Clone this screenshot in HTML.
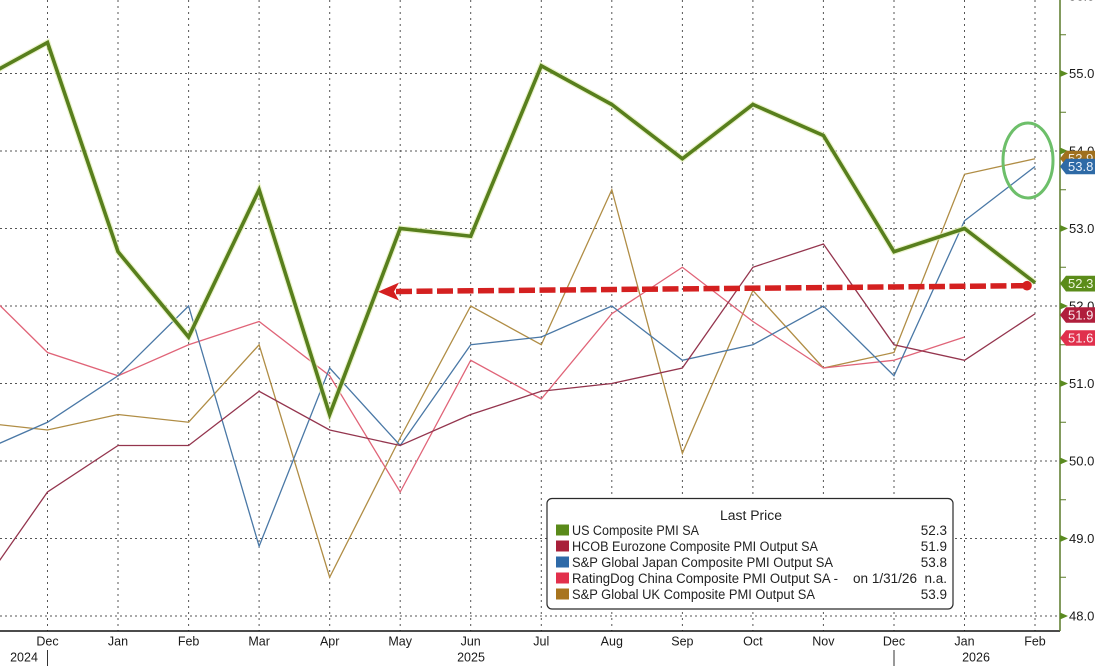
<!DOCTYPE html>
<html>
<head>
<meta charset="utf-8">
<style>
  html,body{margin:0;padding:0;background:#fff;width:1095px;height:666px;overflow:hidden;}
  svg{display:block;}
  text{font-family:"Liberation Sans", Arial, sans-serif;}
</style>
</head>
<body>
<svg width="1095" height="666" viewBox="0 0 1095 666" xmlns="http://www.w3.org/2000/svg">
  <rect x="0" y="0" width="1095" height="666" fill="#ffffff"/>

  <!-- horizontal gridlines -->
  <g stroke="#555" stroke-width="1" stroke-dasharray="2,3">
    <line x1="0" y1="73.5" x2="1060" y2="73.5"/>
    <line x1="0" y1="151" x2="1060" y2="151"/>
    <line x1="0" y1="228.5" x2="1060" y2="228.5"/>
    <line x1="0" y1="306" x2="1060" y2="306"/>
    <line x1="0" y1="383.5" x2="1060" y2="383.5"/>
    <line x1="0" y1="461" x2="1060" y2="461"/>
    <line x1="0" y1="538.5" x2="1060" y2="538.5"/>
    <line x1="0" y1="616" x2="1060" y2="616"/>
  </g>
  <!-- vertical gridlines -->
  <g stroke="#555" stroke-width="1" stroke-dasharray="2,4">
    <line x1="47.5" y1="0" x2="47.5" y2="631"/>
    <line x1="118" y1="0" x2="118" y2="631"/>
    <line x1="188.6" y1="0" x2="188.6" y2="631"/>
    <line x1="259.1" y1="0" x2="259.1" y2="631"/>
    <line x1="329.7" y1="0" x2="329.7" y2="631"/>
    <line x1="400.2" y1="0" x2="400.2" y2="631"/>
    <line x1="470.7" y1="0" x2="470.7" y2="631"/>
    <line x1="541.3" y1="0" x2="541.3" y2="631"/>
    <line x1="611.8" y1="0" x2="611.8" y2="631"/>
    <line x1="682.4" y1="0" x2="682.4" y2="631"/>
    <line x1="752.9" y1="0" x2="752.9" y2="631"/>
    <line x1="823.4" y1="0" x2="823.4" y2="631"/>
    <line x1="894" y1="0" x2="894" y2="631"/>
    <line x1="964.5" y1="0" x2="964.5" y2="631"/>
    <line x1="1035" y1="0" x2="1035" y2="631"/>
  </g>

  <!-- series -->
  <g fill="none" stroke-linejoin="miter">
    <!-- UK -->
    <polyline stroke="#b08d45" stroke-width="1.3" points="-23.04,422.25 47.5,430 118.04,414.5 188.58,422.25 259.12,344.75 329.66,577.25 400.2,437.75 470.74,306 541.28,344.75 611.82,189.75 682.36,453.25 752.9,290.5 823.44,368 893.98,352.5 964.52,174.25 1035.06,158.75"/>
    <!-- China -->
    <polyline stroke="#e06478" stroke-width="1.3" points="-23.04,282.75 47.5,352.5 118.04,375.75 188.58,344.75 259.12,321.5 329.66,375.75 400.2,492 470.74,360.25 541.28,399 611.82,313.75 682.36,267.25 752.9,321.5 823.44,368 893.98,360.25 964.52,337"/>
    <!-- Japan -->
    <polyline stroke="#4a78a6" stroke-width="1.3" points="-23.04,453.25 47.5,422.25 118.04,375.75 188.58,306 259.12,546.25 329.66,368 400.2,445.5 470.74,344.75 541.28,337 611.82,306 682.36,360.25 752.9,344.75 823.44,306 893.98,375.75 964.52,220.75 1035.06,166.5"/>
    <!-- Eurozone -->
    <polyline stroke="#94354e" stroke-width="1.3" points="-23.04,592.75 47.5,492 118.04,445.5 188.58,445.5 259.12,391.25 329.66,430 400.2,445.5 470.74,414.5 541.28,391.25 611.82,383.5 682.36,368 752.9,267.25 823.44,244 893.98,344.75 964.52,360.25 1035.06,313.75"/>
    <!-- US halo -->
    <polyline stroke="#e4efb8" stroke-width="6" opacity="0.7" points="-23.04,81.25 47.5,42.5 118.04,251.75 188.58,337 259.12,189.75 329.66,414.5 400.2,228.5 470.74,236.25 541.28,65.75 611.82,104.5 682.36,158.75 752.9,104.5 823.44,135.5 893.98,251.75 964.52,228.5 1035.06,282.75"/>
    <!-- US -->
    <polyline stroke="#587f1d" stroke-width="3.6" points="-23.04,81.25 47.5,42.5 118.04,251.75 188.58,337 259.12,189.75 329.66,414.5 400.2,228.5 470.74,236.25 541.28,65.75 611.82,104.5 682.36,158.75 752.9,104.5 823.44,135.5 893.98,251.75 964.52,228.5 1035.06,282.75"/>
  </g>

  <!-- red dashed arrow -->
  <line x1="396" y1="291.5" x2="1026" y2="285.7" stroke="#d42020" stroke-width="5.5" stroke-dasharray="16,4.5"/>
  <polygon points="378,291.7 399,282.6 394,291.5 399,300.5" fill="#d42020"/>
  <circle cx="1027" cy="285.7" r="4.8" fill="#d42020"/>

  <!-- green ellipse -->
  <ellipse cx="1028" cy="160.5" rx="25" ry="37.5" fill="none" stroke="#6dbf6a" stroke-width="3"/>

  <!-- legend -->
  <rect x="547" y="498.5" width="406" height="110.5" rx="5" ry="5" fill="#ffffff" stroke="#2a2a2a" stroke-width="1.2"/>
  <text x="751" y="520" font-size="13.5" fill="#222" text-anchor="middle" textLength="62" lengthAdjust="spacingAndGlyphs">Last Price</text>
  <rect x="556" y="524.5" width="13" height="11" fill="#5a8a1a"/>
  <rect x="556" y="540.5" width="13" height="11" fill="#a8203a"/>
  <rect x="556" y="556.5" width="13" height="11" fill="#2e6aa8"/>
  <rect x="556" y="572.5" width="13" height="11" fill="#e2304c"/>
  <rect x="556" y="588.5" width="13" height="11" fill="#a8741e"/>
  <g font-size="13.5" fill="#222">
    <text x="572" y="535" textLength="127" lengthAdjust="spacingAndGlyphs">US Composite PMI SA</text>
    <text x="572" y="551" textLength="246" lengthAdjust="spacingAndGlyphs">HCOB Eurozone Composite PMI Output SA</text>
    <text x="572" y="567" textLength="261" lengthAdjust="spacingAndGlyphs">S&amp;P Global Japan Composite PMI Output SA</text>
    <text x="572" y="583" textLength="266" lengthAdjust="spacingAndGlyphs">RatingDog China Composite PMI Output SA -</text>
    <text x="853" y="583" textLength="64" lengthAdjust="spacingAndGlyphs">on 1/31/26</text>
    <text x="572" y="599" textLength="243" lengthAdjust="spacingAndGlyphs">S&amp;P Global UK Composite PMI Output SA</text>
    <text x="947" y="535" text-anchor="end">52.3</text>
    <text x="947" y="551" text-anchor="end">51.9</text>
    <text x="947" y="567" text-anchor="end">53.8</text>
    <text x="947" y="583" text-anchor="end">n.a.</text>
    <text x="947" y="599" text-anchor="end">53.9</text>
  </g>

  <!-- axes -->
  <line x1="0" y1="631" x2="1060" y2="631" stroke="#111" stroke-width="1.5"/>
  <line x1="1060" y1="0" x2="1060" y2="631" stroke="#5a7a28" stroke-width="1.5"/>

  <!-- right axis ticks -->
  <g fill="#5a8a20">
    <polygon points="1060,70 1068,73.5 1060,77"/>
    <polygon points="1060,147.5 1068,151 1060,154.5"/>
    <polygon points="1060,225 1068,228.5 1060,232"/>
    <polygon points="1060,302.5 1068,306 1060,309.5"/>
    <polygon points="1060,380 1068,383.5 1060,387"/>
    <polygon points="1060,457.5 1068,461 1060,464.5"/>
    <polygon points="1060,535 1068,538.5 1060,542"/>
    <polygon points="1060,612.5 1068,616 1060,619.5"/>
  </g>
  <g stroke="#5a7a28" stroke-width="1">
    <line x1="1060" y1="34.75" x2="1066" y2="34.75"/>
    <line x1="1060" y1="112.25" x2="1066" y2="112.25"/>
    <line x1="1060" y1="189.75" x2="1066" y2="189.75"/>
    <line x1="1060" y1="267.25" x2="1066" y2="267.25"/>
    <line x1="1060" y1="344.75" x2="1066" y2="344.75"/>
    <line x1="1060" y1="422.25" x2="1066" y2="422.25"/>
    <line x1="1060" y1="499.75" x2="1066" y2="499.75"/>
    <line x1="1060" y1="577.25" x2="1066" y2="577.25"/>
  </g>

  <!-- right axis labels -->
  <g font-size="13" fill="#1a1a1a">
    <text x="1069" y="0.5">56.0</text>
    <text x="1069" y="78">55.0</text>
    <text x="1069" y="155.5">54.0</text>
    <text x="1069" y="233">53.0</text>
    <text x="1069" y="310.5">52.0</text>
    <text x="1069" y="388">51.0</text>
    <text x="1069" y="465.5">50.0</text>
    <text x="1069" y="543">49.0</text>
    <text x="1069" y="620.5">48.0</text>
  </g>

  <!-- value badges -->
  <g font-size="13">
    <path d="M1060,158.5 L1066,150.8 L1095,150.8 L1095,166.2 L1066,166.2 Z" fill="#a0701e"/>
    <text x="1068" y="163" fill="#f4ead8">53.9</text>
    <path d="M1060,166.5 L1066,158.8 L1095,158.8 L1095,174.2 L1066,174.2 Z" fill="#2e6aa6"/>
    <text x="1068" y="171" fill="#e8f0fa">53.8</text>
    <path d="M1060,283.5 L1066,275.7 L1095,275.7 L1095,291.5 L1066,291.5 Z" fill="#5b8c1a"/>
    <text x="1068" y="288" fill="#eef5dc">52.3</text>
    <path d="M1060,315 L1066,307.3 L1095,307.3 L1095,322.7 L1066,322.7 Z" fill="#b01e3c"/>
    <text x="1068" y="319.5" fill="#fbe8ec">51.9</text>
    <path d="M1060,338 L1066,330.3 L1095,330.3 L1095,345.7 L1066,345.7 Z" fill="#e0304c"/>
    <text x="1068" y="342.5" fill="#fdeaee">51.6</text>
  </g>

  <!-- month labels -->
  <g font-size="12.5" fill="#1a1a1a" text-anchor="middle">
    <text x="47.5" y="645.5">Dec</text>
    <text x="118" y="645.5">Jan</text>
    <text x="188.6" y="645.5">Feb</text>
    <text x="259.1" y="645.5">Mar</text>
    <text x="329.7" y="645.5">Apr</text>
    <text x="400.2" y="645.5">May</text>
    <text x="470.7" y="645.5">Jun</text>
    <text x="541.3" y="645.5">Jul</text>
    <text x="611.8" y="645.5">Aug</text>
    <text x="682.4" y="645.5">Sep</text>
    <text x="752.9" y="645.5">Oct</text>
    <text x="823.4" y="645.5">Nov</text>
    <text x="894" y="645.5">Dec</text>
    <text x="964.5" y="645.5">Jan</text>
    <text x="1035" y="645.5">Feb</text>
    <text x="24" y="661.5">2024</text>
    <text x="471" y="661.5">2025</text>
    <text x="976" y="661.5">2026</text>
  </g>
  <g stroke="#333" stroke-width="1">
    <line x1="47.5" y1="650" x2="47.5" y2="666"/>
    <line x1="894" y1="650" x2="894" y2="666"/>
  </g>

  <!-- clipped footnote -->
  <text x="80" y="676" font-size="12.5" fill="#333">Source: Bloomberg  Jan 31 2025 2014 PMI Index 2025 2014 Composite 12 31 2024 1914 Source PMI 2025 2014 Composite Index 2025 2014</text>
</svg>
</body>
</html>
